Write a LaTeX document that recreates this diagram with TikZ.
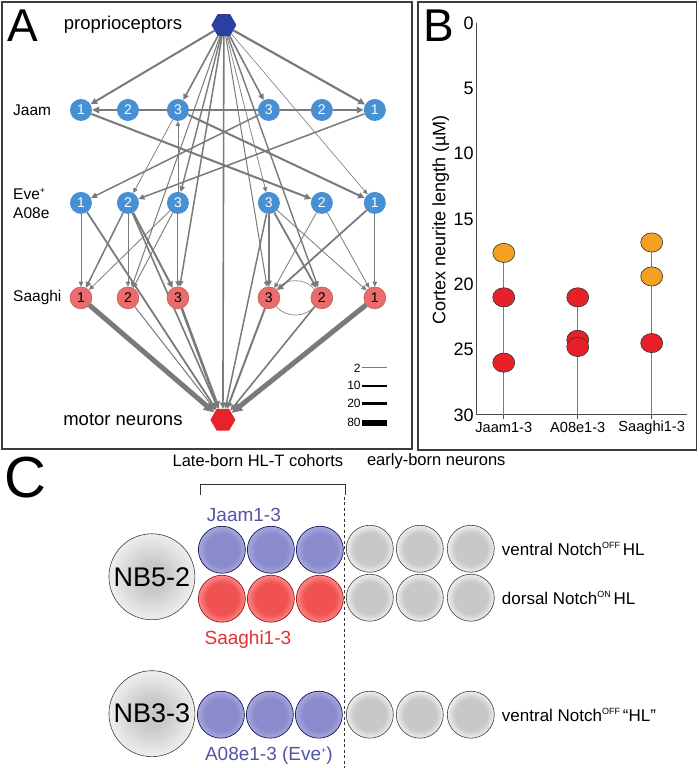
\documentclass[tikz,border=0pt]{standalone}
\usepackage{fontspec}
\setmainfont{Liberation Sans}
\usetikzlibrary{arrows.meta,shapes.geometric}
\pgfdeclarelayer{back}
\pgfdeclarelayer{bg}
\pgfsetlayers{back,bg,main}
\definecolor{nblue}{HTML}{4690D3}
\definecolor{nred}{HTML}{EA6C6C}
\definecolor{pblue}{HTML}{2B3FA3}
\definecolor{mred}{HTML}{E8222A}
\definecolor{edgec}{HTML}{7A7A7A}
\definecolor{borderc}{HTML}{3C3C3C}
\definecolor{dotorange}{HTML}{F5A020}
\definecolor{dotred}{HTML}{E8202A}
\definecolor{lblblue}{HTML}{5454A4}
\definecolor{lblred}{HTML}{E23232}
\definecolor{bluein}{HTML}{8A8ACC}
\definecolor{blueout}{HTML}{A8A8DE}
\definecolor{redin}{HTML}{F05252}
\definecolor{redout}{HTML}{F88A8A}
\definecolor{greyin}{HTML}{C8C8C8}
\definecolor{greyout}{HTML}{EEEEEE}
\pgfdeclareradialshading{cellblue}{\pgfpoint{0bp}{0bp}}{color(0bp)=(bluein); color(17bp)=(bluein); color(25bp)=(blueout); color(50bp)=(blueout)}
\pgfdeclareradialshading{cellred}{\pgfpoint{0bp}{0bp}}{color(0bp)=(redin); color(17bp)=(redin); color(25bp)=(redout); color(50bp)=(redout)}
\pgfdeclareradialshading{cellgrey}{\pgfpoint{0bp}{0bp}}{color(0bp)=(greyin); color(17bp)=(greyin); color(25bp)=(greyout); color(50bp)=(greyout)}
\pgfdeclareradialshading{nbgrey}{\pgfpoint{0bp}{0bp}}{color(0bp)=(greyin); color(8bp)=(greyin); color(25bp)=(greyout); color(50bp)=(greyout)}
\newcommand\setfs[1]{\fontsize{#1}{#1}\selectfont}
\newcommand\smallsup[1]{\raisebox{0.75ex}{\fontsize{9}{9}\selectfont #1}}
\begin{document}
\begin{tikzpicture}[x=1pt,y=-1pt,
  jn/.style={circle, fill=nblue, minimum size=22pt, inner sep=0pt, text=white, font=\setfs{14}},
  sn/.style={circle, fill=nred, draw=nred!75!black, line width=0.4pt, minimum size=22pt, inner sep=0pt, text=black, font=\setfs{14}},
  hexn/.style={regular polygon, regular polygon sides=6, minimum size=25pt, inner sep=0pt},
  lbl/.style={font=\setfs{15.5}, anchor=west, inner sep=0pt},
  big/.style={font=\setfs{18.5}, inner sep=0pt},
  panel/.style={draw=borderc, line width=1.5pt},
  edg/.style={draw=edgec, line width=#1pt, -{Triangle[length=4pt 1.3, width=3.5pt 1.3]}},
  pedg/.style={draw=edgec, line width=#1pt},
  cell/.style={circle, draw=#1, line width=0.6pt, minimum size=47pt, inner sep=0pt, shade},
  nb/.style={circle, draw=black!75, line width=0.6pt, minimum size=86pt, inner sep=0pt, shade, shading=nbgrey, font=\setfs{27}},
  ctext/.style={font=\setfs{17}, anchor=west, inner sep=0pt},
  dot/.style={draw=black!80, line width=0.6pt}
]
\begin{pgfonlayer}{back}
\path[use as bounding box, fill=white] (0,0) rectangle (700,768);
\end{pgfonlayer}

% ---------------- Panel A ----------------
\draw[panel] (2,2) rectangle (412,449);
\node[font=\setfs{46}, inner sep=0pt] (lA) at (23,26) {A};
\node[big] (tprop) at (123,25) {proprioceptors};
\node[big] (tmot) at (123,420) {motor neurons};
\node[lbl] (tjaam) at (13,110) {Jaam};
\node[lbl] (teve) at (13,194) {Eve\smallsup{+}};
\node[lbl] (ta08) at (13,213) {A08e};
\node[lbl] (tsaa) at (13,298) {Saaghi};

\node[hexn, fill=pblue] (P) at (224,25) {};
\node[hexn, fill=mred] (M) at (223,420) {};

\foreach \n/\x/\t in {J1L/81/1,J2L/128/2,J3L/178/3,J3R/269/3,J2R/322/2,J1R/375/1}
  \node[jn] (\n) at (\x,110) {\t};
\foreach \n/\x/\t in {E1L/81/1,E2L/128/2,E3L/178/3,E3R/269/3,E2R/322/2,E1R/375/1}
  \node[jn] (\n) at (\x,203) {\t};
\foreach \n/\x/\t in {S1L/81/1,S2L/128/2,S3L/178/3,S3R/269/3,S2R/322/2,S1R/375/1}
  \node[sn] (\n) at (\x,298) {\t};

\begin{pgfonlayer}{bg}
\foreach \a/\b/\w in {J3L/J2L/2.2, J3L/J3R/2, J3R/J2R/2}
  \draw[pedg=\w] (\a) -- (\b);
\foreach \a/\b/\w in {
  J2L/J1L/2.2, J2R/J1R/2.2,
  P/J1L/2, P/J3L/1.6, P/J3R/1.6, P/J1R/2.2, P/M/1.6,
  P/E3L/1.4, P/E3R/0.7, P/E1R/0.6, P/S3L/1.5, P/S2L/1.0, P/S2R/1.4, P/S3R/1.0,
  J1L/E2R/2, J3L/E1R/2, J3R/E1L/1.5, J1R/E2L/1.5, J3L/E2L/0.7, E3L/J3L/0.8,
  E1L/S1L/0.8, E1L/M/1.8, E2L/S1L/1.5, E2L/S2L/0.8, E2L/S3L/2, E2L/M/1.6,
  E3L/S1L/0.8, E3L/S2L/0.9, E3L/S3L/1.0,
  E3R/S3R/1.6, E3R/S2R/1.8, E3R/S1R/0.8, E3R/M/1.5,
  E2R/S3R/0.8, E2R/S1R/0.8, E1R/S1R/0.8, E1R/S3R/1.8,
  S1L/M/5, S2L/M/1.0, S3L/M/2.6, S3R/M/2.0, S2R/M/1.6, S1R/M/5}
  \draw[edg=\w] (\a) -- (\b);
\draw[pedg=0.6] (S3R) to[bend left=50] (S2R);
\draw[pedg=0.6] (S2R) to[bend left=50] (S3R);
\end{pgfonlayer}

% legend
\foreach \v/\y/\w/\c in {2/368/0.9/edgec, 10/386/2.2/black, 20/404/2.8/black, 80/423/5.5/black}{
  \node[font=\setfs{12}, anchor=east, inner sep=0pt] (leg\v) at (361,\y) {\v};
  \coordinate (le\v) at (387,\y);
  \draw[draw=\c, line width=\w pt] (leg\v.east) ++(1,0) -- (le\v);
}

% ---------------- Panel B ----------------
\draw[panel] (418,2) rectangle (697,450);
\node[font=\setfs{46}, inner sep=0pt] (lB) at (439,26) {B};
\coordinate (ytop) at (477,23);
\coordinate (yorg) at (477,415);
\coordinate (xend) at (687,415);
\draw[black!70, line width=0.9pt] (ytop) -- (yorg) -- (xend);
\foreach \v in {0,5,...,30}
  \node[font=\setfs{18}, anchor=east, inner sep=0pt] at (474,{23+13.07*\v}) {\v};
\node[font=\setfs{18}, rotate=90, inner sep=0pt] (ytitle) at (441,220) {Cortex neurite length (µM)};
\foreach \x/\t in {504/Jaam1-3, 578/A08e1-3, 652/Saaghi1-3}{
  \draw[black!70, line width=0.8pt] (\x,415) -- (\x,419);
  \node[font=\setfs{14.6}, inner sep=0pt] at (\x,428) {\t};
}
\draw[edgec, line width=0.9pt] (504,{23+13.07*17.6}) -- (504,415);
\draw[edgec, line width=0.9pt] (578,{23+13.07*21}) -- (578,415);
\draw[edgec, line width=0.9pt] (652,{23+13.07*16.8}) -- (652,415);
\foreach \x/\v/\c in {504/17.6/dotorange, 504/21/dotred, 504/26/dotred,
   578/21/dotred, 578/24.25/dotred, 578/24.8/dotred,
   652/16.8/dotorange, 652/19.4/dotorange, 652/24.5/dotred}
  \filldraw[dot, fill=\c] (\x,{23+13.07*\v}) ellipse [x radius=11, y radius=9.6];

% ---------------- Panel C ----------------
\node[font=\setfs{58}, inner sep=0pt] (lC) at (25,478) {C};
\node[font=\setfs{16.5}, inner sep=0pt] (tlate) at (258,461) {Late-born HL-T cohorts};
\node[font=\setfs{16.5}, anchor=west, inner sep=0pt] (tearly) at (367,461) {early-born neurons};
\draw[black!80, line width=0.8pt] (200,495) -- (200,485) -- (346,485) -- (346,495);
\draw[black!80, line width=0.7pt, dash pattern=on 3pt off 2.5pt] (345,497) -- (345,768);

\node[nb] (nb52) at (152,577) {NB5-2};
\node[nb] (nb33) at (152,714) {NB3-3};

\foreach \i/\x in {1/222,2/271,3/320}{
  \node[cell=black!70!blue, shading=cellblue] (ja\i) at (\x,550) {};
  \node[cell=red!60!black, shading=cellred] (sa\i) at (\x,599) {};
  \node[cell=black!70!blue, shading=cellblue] (ae\i) at (\x-1,715) {};
}
\foreach \i/\x in {1/370,2/420,3/471}{
  \node[cell=black!75, shading=cellgrey] (ga\i) at (\x,549) {};
  \node[cell=black!75, shading=cellgrey] (gb\i) at (\x,598) {};
  \node[cell=black!75, shading=cellgrey] (gc\i) at (\x,715) {};
}
\node[font=\setfs{19}, text=lblblue, inner sep=0pt] (tja) at (244,515) {Jaam1-3};
\node[font=\setfs{19}, text=lblred, inner sep=0pt] (tsa) at (248,640) {Saaghi1-3};
\node[font=\setfs{19}, text=lblblue, inner sep=0pt] (tae) at (269,756) {A08e1-3 (Eve\smallsup{+})};
\node[ctext] (tv1) at (502,549) {ventral Notch\smallsup{OFF}\,HL};
\node[ctext] (td1) at (502,598) {dorsal Notch\smallsup{ON}\,HL};
\node[ctext] (tv2) at (502,715) {ventral Notch\smallsup{OFF}\,“HL”};
\end{tikzpicture}
\end{document}
